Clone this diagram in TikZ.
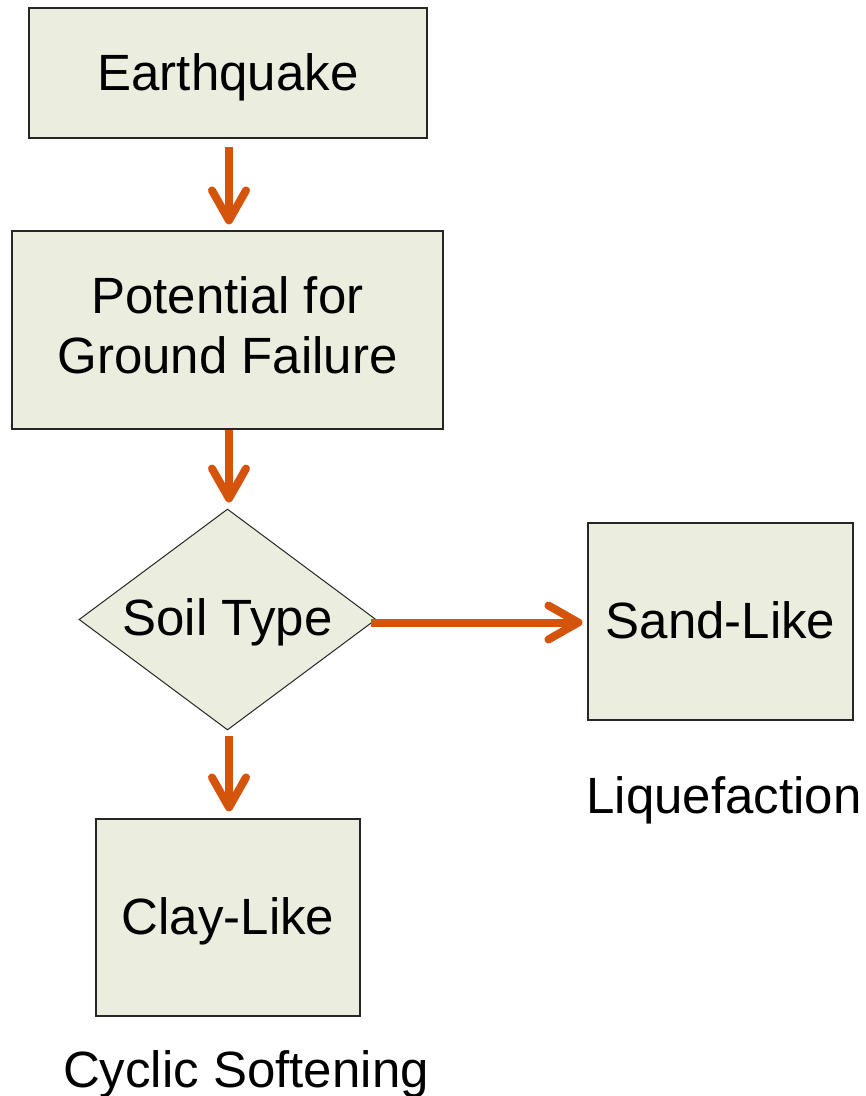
\documentclass[tikz,border=0pt]{standalone}
\usepackage{fontspec}
\setmainfont{Liberation Sans}
\usetikzlibrary{shapes.geometric,arrows.meta}
\definecolor{boxfill}{RGB}{235,238,222}
\definecolor{arrowred}{RGB}{213,84,12}

\begin{document}
\begin{tikzpicture}[x=1pt,y=-1pt,
  every node/.style={font=\fontsize{51}{60}\selectfont, inner sep=0pt},
  flowbox/.style={draw=black!85, line width=1.2pt, fill=boxfill, align=center, text height=38pt, text depth=4pt},
  choice/.style={draw=black!85, line width=1pt, fill=boxfill, shape=diamond, aspect=1.344, minimum width=297pt, minimum height=221pt, text height=38pt, text depth=6pt},
  flowarrow/.style={draw=arrowred, line width=8pt, -{Straight Barb[length=30pt,width=34pt,round]}}]
\useasboundingbox (0,0) rectangle (866,1096);
\node[flowbox, minimum width=398pt, minimum height=130pt] (quake) at (228,73) {Earthquake};
\node[flowbox, minimum width=431pt, minimum height=198pt, text height=98pt, text depth=12pt] (failure) at (227.5,330) {Potential for\\Ground Failure};
\node[choice] (soil) at (227.5,619.5) {Soil Type};
\node[flowbox, minimum width=265pt, minimum height=197pt] (sand) at (720.5,621.5) {Sand-Like};
\node[flowbox, minimum width=264pt, minimum height=197pt] (clay) at (228,917.5) {Clay-Like};
\node[anchor=base] (liq) at (724,813) {Liquefaction};
\node[anchor=base] (cyc) at (246,1087) {Cyclic Softening};
% connectors
\draw[flowarrow, shorten <=8pt, shorten >=6pt] ([xshift=1pt]quake.south) -- ([xshift=1pt]quake.south |- failure.north);
\draw[flowarrow, shorten >=6pt] ([xshift=1.5pt]failure.south) -- ([xshift=1.5pt]failure.south |- soil.north);
\draw[flowarrow, shorten <=-6pt, shorten >=5pt] ([yshift=-3pt]soil.east) -- ([yshift=-3pt]soil.east -| sand.west);
\draw[flowarrow, shorten <=5pt, shorten >=7pt] ([xshift=1.5pt]soil.south) -- ([xshift=1pt]clay.north);
\end{tikzpicture}
\end{document}
